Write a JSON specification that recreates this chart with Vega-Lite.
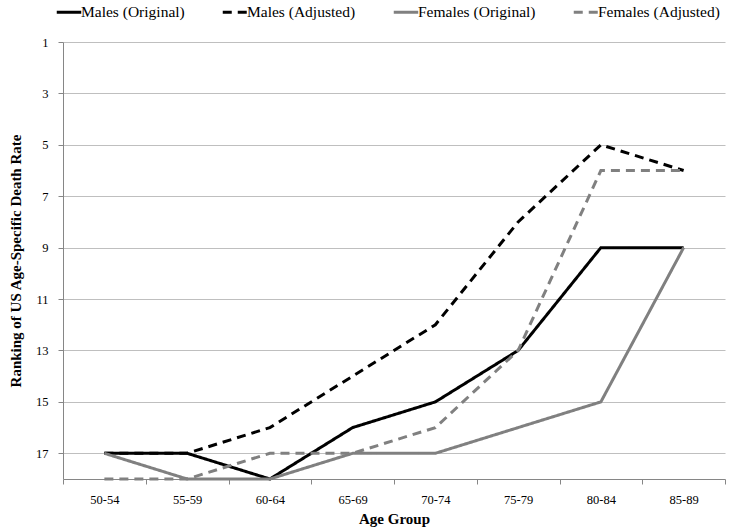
{
  "$schema": "https://vega.github.io/schema/vega-lite/v6.json",
  "width": 662,
  "height": 437,
  "autosize": {"type": "none"},
  "padding": {"left": 63, "top": 42, "right": 6, "bottom": 52},
  "background": "white",
  "data": {"values": [
    {"age": "50-54", "series": "Males (Original)", "rank": 17},
    {"age": "55-59", "series": "Males (Original)", "rank": 17},
    {"age": "60-64", "series": "Males (Original)", "rank": 18},
    {"age": "65-69", "series": "Males (Original)", "rank": 16},
    {"age": "70-74", "series": "Males (Original)", "rank": 15},
    {"age": "75-79", "series": "Males (Original)", "rank": 13},
    {"age": "80-84", "series": "Males (Original)", "rank": 9},
    {"age": "85-89", "series": "Males (Original)", "rank": 9},
    {"age": "50-54", "series": "Males (Adjusted)", "rank": 17},
    {"age": "55-59", "series": "Males (Adjusted)", "rank": 17},
    {"age": "60-64", "series": "Males (Adjusted)", "rank": 16},
    {"age": "65-69", "series": "Males (Adjusted)", "rank": 14},
    {"age": "70-74", "series": "Males (Adjusted)", "rank": 12},
    {"age": "75-79", "series": "Males (Adjusted)", "rank": 8},
    {"age": "80-84", "series": "Males (Adjusted)", "rank": 5},
    {"age": "85-89", "series": "Males (Adjusted)", "rank": 6},
    {"age": "50-54", "series": "Females (Original)", "rank": 17},
    {"age": "55-59", "series": "Females (Original)", "rank": 18},
    {"age": "60-64", "series": "Females (Original)", "rank": 18},
    {"age": "65-69", "series": "Females (Original)", "rank": 17},
    {"age": "70-74", "series": "Females (Original)", "rank": 17},
    {"age": "75-79", "series": "Females (Original)", "rank": 16},
    {"age": "80-84", "series": "Females (Original)", "rank": 15},
    {"age": "85-89", "series": "Females (Original)", "rank": 9},
    {"age": "50-54", "series": "Females (Adjusted)", "rank": 18},
    {"age": "55-59", "series": "Females (Adjusted)", "rank": 18},
    {"age": "60-64", "series": "Females (Adjusted)", "rank": 17},
    {"age": "65-69", "series": "Females (Adjusted)", "rank": 17},
    {"age": "70-74", "series": "Females (Adjusted)", "rank": 16},
    {"age": "75-79", "series": "Females (Adjusted)", "rank": 13},
    {"age": "80-84", "series": "Females (Adjusted)", "rank": 6},
    {"age": "85-89", "series": "Females (Adjusted)", "rank": 6}
  ]},
  "mark": {"type": "line", "strokeWidth": 3, "strokeCap": "butt", "strokeJoin": "miter"},
  "encoding": {
    "x": {
      "field": "age", "type": "nominal", "bandPosition": 0.5,
      "scale": {"type": "band", "paddingInner": 0, "paddingOuter": 0},
      "axis": {
        "title": "Age Group", "labelAngle": 0, "tickBand": "extent", "grid": false,
        "domainColor": "#868686", "tickColor": "#868686", "tickSize": 5,
        "labelFont": "Liberation Serif", "labelFontSize": 12.5, "labelColor": "#000000", "labelPadding": 9,
        "titleFont": "Liberation Serif", "titleFontSize": 15, "titleFontWeight": "bold", "titleColor": "#000000", "titlePadding": 6
      }
    },
    "y": {
      "field": "rank", "type": "quantitative",
      "scale": {"domain": [1, 18], "reverse": true, "nice": false, "zero": false},
      "axis": {
        "title": "Ranking of US Age-Specific Death Rate",
        "values": [1, 3, 5, 7, 9, 11, 13, 15, 17],
        "grid": true, "gridColor": "#bfbfbf", "gridWidth": 1,
        "domainColor": "#868686", "tickColor": "#868686", "tickSize": 5,
        "labelFont": "Liberation Serif", "labelFontSize": 12.5, "labelColor": "#000000", "labelPadding": 10,
        "titleFont": "Liberation Serif", "titleFontSize": 15, "titleFontWeight": "bold", "titleColor": "#000000", "titlePadding": 12
      }
    },
    "color": {
      "field": "series", "type": "nominal",
      "scale": {
        "domain": ["Males (Original)", "Males (Adjusted)", "Females (Original)", "Females (Adjusted)"],
        "range": ["#000000", "#000000", "#808080", "#808080"]
      },
      "legend": {
        "title": null, "orient": "none", "direction": "horizontal", "legendX": -8, "legendY": -44,
        "symbolType": "stroke", "symbolStrokeWidth": 3, "symbolSize": 600,
        "labelFont": "Liberation Serif", "labelFontSize": 15.5, "labelColor": "#000000",
        "labelOffset": -2, "columnPadding": 31
      }
    },
    "strokeDash": {
      "field": "series", "type": "nominal",
      "scale": {
        "domain": ["Males (Original)", "Males (Adjusted)", "Females (Original)", "Females (Adjusted)"],
        "range": [[1, 0], [9, 6], [1, 0], [9, 6]]
      },
      "legend": null
    }
  },
  "config": {"view": {"stroke": null}}
}
